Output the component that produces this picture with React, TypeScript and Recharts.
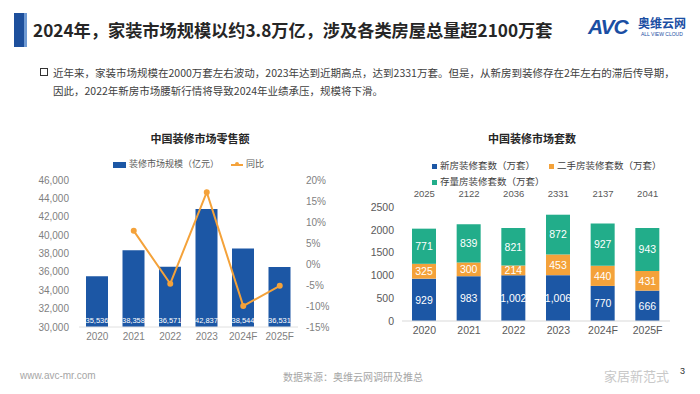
import React from "react";
import {
  ComposedChart,
  BarChart,
  Bar,
  Line,
  XAxis,
  YAxis,
  LabelList,
} from "recharts";

const years = ["2020", "2021", "2022", "2023", "2024F", "2025F"];
const marketSize = [35536, 38358, 36571, 42837, 38544, 36531];
const yoy = [null, 7.9, -4.7, 17.1, -10.0, -5.2];
const sizeTicks = [30000, 32000, 34000, 36000, 38000, 40000, 42000, 44000, 46000];
const yoyTicks = [-15, -10, -5, 0, 5, 10, 15, 20];

const newHouse = [929, 983, 1002, 1006, 770, 666];
const secondHand = [325, 300, 214, 453, 440, 431];
const stockHouse = [771, 839, 821, 872, 927, 943];
const totals = ["2025", "2122", "2036", "2331", "2137", "2041"];
const countTicks = [0, 500, 1000, 1500, 2000, 2500];

const BLUE = "#1c57a5";
const ORANGE = "#f4a23a";
const TEAL = "#22ad8a";
const AXIS_TEXT = "#7f7f7f";
const FONT = '"Liberation Sans", "Noto Sans CJK SC", sans-serif';
const CJK = '"Noto Sans CJK SC", sans-serif';

const retailData = years.map((year, i) => ({
  year,
  size: marketSize[i],
  yoy: yoy[i],
}));

const countData = years.map((year, i) => ({
  year,
  total: totals[i],
  newHouse: newHouse[i],
  secondHand: secondHand[i],
  stock: stockHouse[i],
}));

const fmt = (v: any) => Number(v).toLocaleString("en-US");

const abs = (left: number, top: number, extra: React.CSSProperties = {}): React.CSSProperties => ({
  position: "absolute",
  left,
  top,
  whiteSpace: "nowrap",
  ...extra,
});

function Swatch({ color, w, h }: { color: string; w: number; h: number }) {
  return (
    <span
      style={{
        display: "inline-block",
        width: w,
        height: h,
        background: color,
        marginRight: 3,
        verticalAlign: "middle",
      }}
    />
  );
}

export default function App() {
  const tick = { fontSize: 10, fill: AXIS_TEXT, fontFamily: FONT };
  return (
    <div
      style={{
        position: "absolute",
        left: 0,
        top: 0,
        width: 700,
        height: 394,
        background: "#fff",
        overflow: "hidden",
        fontFamily: CJK,
      }}
    >
      {/* header */}
      <div style={abs(14, 13, { width: 10, height: 34, background: "#1d4f9c" })} />
      <div style={abs(24, 13, { width: 3, height: 34, background: "#6f9ad3" })} />
      <div style={abs(33, 17, { fontSize: 17.2, fontWeight: 700, color: "#262626", lineHeight: "26px" })}>
        2024年，家装市场规模以约3.8万亿，涉及各类房屋总量超2100万套
      </div>
      <div
        style={abs(588, 15, {
          fontFamily: FONT,
          fontSize: 21,
          fontWeight: 700,
          fontStyle: "italic",
          color: "#1a4ea3",
          lineHeight: "24px",
          letterSpacing: -1,
        })}
      >
        AVC
      </div>
      <div style={abs(638, 15, { fontSize: 12, fontWeight: 700, color: "#1a4ea3", lineHeight: "15px" })}>
        奥维云网
      </div>
      <div style={abs(641, 31, { fontFamily: FONT, fontSize: 5, color: "#1a4ea3", lineHeight: "6px" })}>
        ALL VIEW CLOUD
      </div>

      {/* bullet text */}
      <div style={abs(40, 68, { width: 6, height: 6, border: "1.5px solid #333" })} />
      <div style={abs(53, 64, { fontSize: 10.5, color: "#404040", lineHeight: "18px" })}>
        近年来，家装市场规模在2000万套左右波动，2023年达到近期高点，达到2331万套。但是，从新房到装修存在2年左右的滞后传导期，
        <br />
        因此，2022年新房市场腰斩行情将导致2024年业绩承压，规模将下滑。
      </div>

      {/* left chart */}
      <div style={abs(150, 130, { fontSize: 11, fontWeight: 700, color: "#262626", width: 100, textAlign: "center" })}>
        中国装修市场零售额
      </div>
      <div style={abs(113, 157, { fontSize: 9, color: "#595959", lineHeight: "14px" })}>
        <Swatch color={BLUE} w={13} h={6} />
        装修市场规模（亿元）
        <span style={{ display: "inline-block", width: 12 }} />
        <span
          style={{
            display: "inline-block",
            width: 12,
            height: 2,
            background: ORANGE,
            verticalAlign: "middle",
            marginRight: 3,
            position: "relative",
          }}
        >
          <span
            style={{
              position: "absolute",
              left: 4,
              top: -1.5,
              width: 4,
              height: 4,
              borderRadius: 2,
              background: ORANGE,
            }}
          />
        </span>
        同比
      </div>
      <div style={abs(0, 150, { width: 340, height: 200 })}>
        <ComposedChart
          width={340}
          height={200}
          data={retailData}
          margin={{ top: 30, right: 0, bottom: 0, left: 0 }}
        >
          <XAxis
            dataKey="year"
            height={23}
            tickLine={false}
            axisLine={{ stroke: "#e0e0e0" }}
            tickMargin={0}
            tick={tick}
            interval={0}
          />
          <YAxis
            yAxisId="left"
            width={79}
            domain={[30000, 46000]}
            ticks={sizeTicks}
            tickFormatter={fmt}
            tickLine={false}
            axisLine={false}
            tickMargin={4}
            tick={tick}
            allowDataOverflow
          />
          <YAxis
            yAxisId="right"
            orientation="right"
            width={42}
            domain={[-15, 20]}
            ticks={yoyTicks}
            tickFormatter={(v) => `${v}%`}
            tickLine={false}
            axisLine={false}
            tick={tick}
          />
          <Bar yAxisId="left" dataKey="size" fill={BLUE} barSize={22} isAnimationActive={false}>
            <LabelList
              dataKey="size"
              position="insideBottom"
              offset={4}
              formatter={fmt}
              style={{ fill: "#fff", fontSize: 7.5, fontFamily: FONT }}
            />
          </Bar>
          <Line
            yAxisId="right"
            dataKey="yoy"
            stroke={ORANGE}
            strokeWidth={2}
            dot={{ r: 2, fill: ORANGE, stroke: ORANGE }}
            isAnimationActive={false}
          />
        </ComposedChart>
      </div>

      {/* right chart */}
      <div style={abs(482, 130, { fontSize: 11, fontWeight: 700, color: "#262626", width: 100, textAlign: "center" })}>
        中国装修市场套数
      </div>
      <div style={abs(432, 157, { fontSize: 9.5, color: "#404040", lineHeight: "16px" })}>
        <Swatch color={BLUE} w={5} h={5} />
        新房装修套数（万套）
        <span style={{ display: "inline-block", width: 14 }} />
        <Swatch color={ORANGE} w={5} h={5} />
        二手房装修套数（万套）
        <br />
        <Swatch color={TEAL} w={5} h={5} />
        存量房装修套数（万套）
      </div>
      <div style={abs(360, 150, { width: 330, height: 200 })}>
        <BarChart
          width={330}
          height={200}
          data={countData}
          margin={{ top: 37, right: 20, bottom: 0, left: 0 }}
        >
          <XAxis
            xAxisId="top"
            orientation="top"
            dataKey="total"
            height={20}
            tickLine={false}
            axisLine={false}
            tickMargin={4}
            tick={{ ...tick, fontSize: 9.5, fill: "#595959" }}
            interval={0}
          />
          <XAxis
            dataKey="year"
            height={29}
            tickLine={false}
            axisLine={{ stroke: "#d9d9d9" }}
            tickMargin={0}
            tick={{ ...tick, fontSize: 10.5, fill: "#595959" }}
            interval={0}
          />
          <YAxis
            width={42}
            domain={[0, 2500]}
            ticks={countTicks}
            tickLine={false}
            axisLine={false}
            tick={{ ...tick, fontSize: 10.5, fill: "#595959" }}
          />
          <Bar dataKey="newHouse" stackId="a" fill={BLUE} barSize={24} isAnimationActive={false}>
            <LabelList
              dataKey="newHouse"
              position="center"
              formatter={fmt}
              style={{ fill: "#fff", fontSize: 10.5, fontFamily: FONT }}
            />
          </Bar>
          <Bar dataKey="secondHand" stackId="a" fill={ORANGE} barSize={24} isAnimationActive={false}>
            <LabelList
              dataKey="secondHand"
              position="center"
              style={{ fill: "#fff", fontSize: 10.5, fontFamily: FONT }}
            />
          </Bar>
          <Bar dataKey="stock" stackId="a" fill={TEAL} barSize={24} isAnimationActive={false}>
            <LabelList
              dataKey="stock"
              position="center"
              style={{ fill: "#fff", fontSize: 10.5, fontFamily: FONT }}
            />
          </Bar>
        </BarChart>
      </div>

      {/* footer */}
      <div style={abs(20, 370, { fontFamily: FONT, fontSize: 10, color: "#a6a6a6" })}>www.avc-mr.com</div>
      <div style={abs(283, 369, { fontSize: 10, color: "#a6a6a6" })}>数据来源：奥维云网调研及推总</div>
      <div style={abs(604, 366, { fontSize: 13, color: "#c8c8c8" })}>家居新范式</div>
      <div style={abs(680, 366, { fontFamily: FONT, fontSize: 9, color: "#333" })}>3</div>
    </div>
  );
}
